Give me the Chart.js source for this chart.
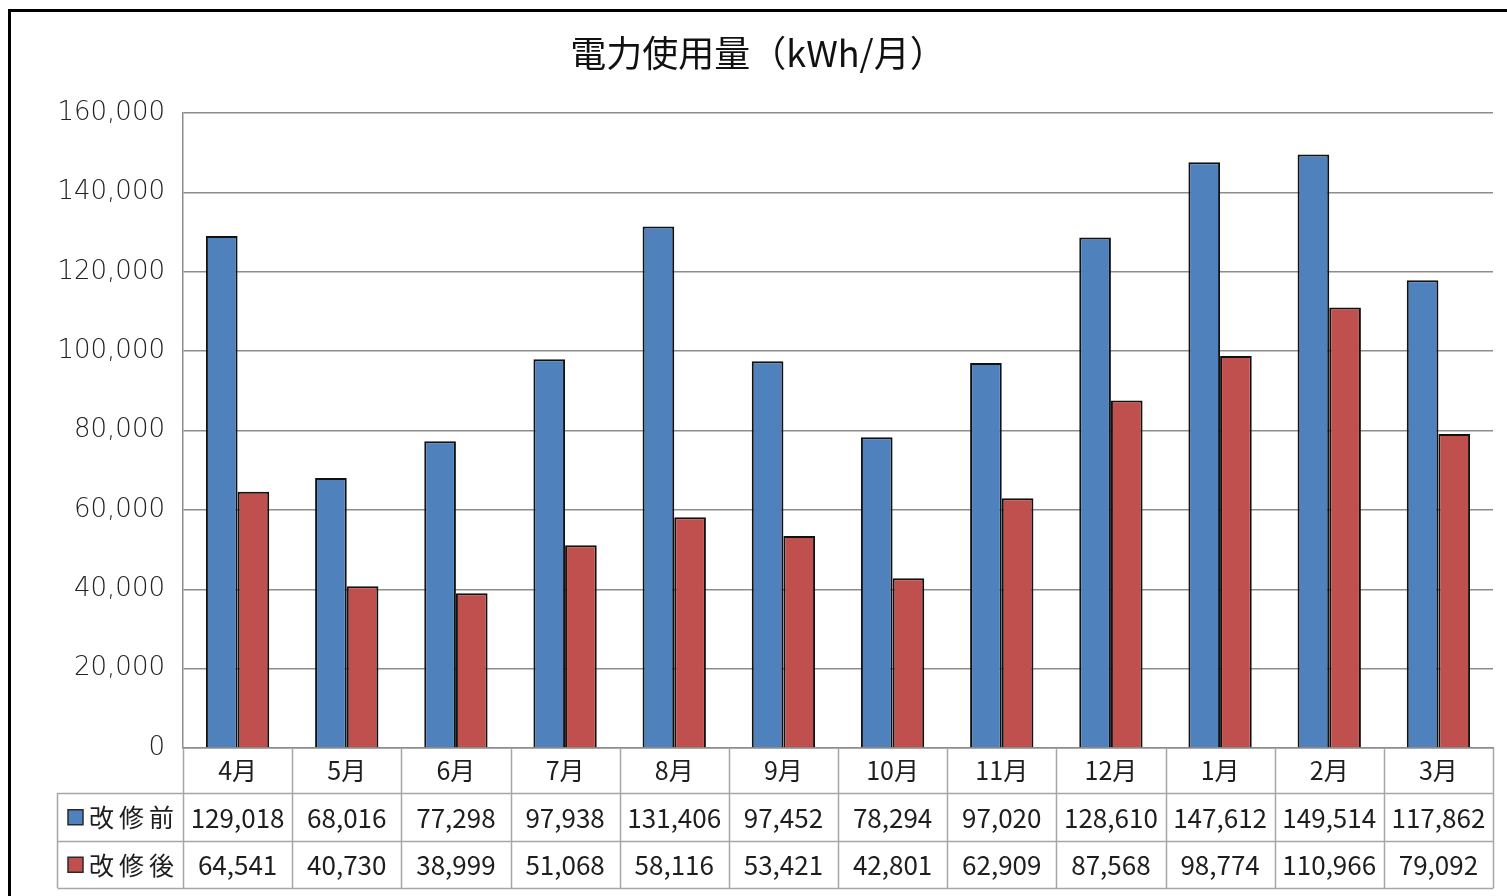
<!DOCTYPE html>
<html lang="ja">
<head>
<meta charset="utf-8">
<title>電力使用量（kWh/月）</title>
<script src="https://cdn.jsdelivr.net/npm/chart.js@4.4.1/dist/chart.umd.min.js"></script>
<style>
  html, body { margin: 0; padding: 0; background: #ffffff; }
  canvas { display: block; }
</style>
</head>
<body>
<canvas id="chart" width="1507" height="896"></canvas>
<script>
// Monthly electricity use, before and after the renovation (kWh)
const months = ['4月', '5月', '6月', '7月', '8月', '9月', '10月', '11月', '12月', '1月', '2月', '3月'];
const beforeRenovation = [129018, 68016, 77298, 97938, 131406, 97452, 78294, 97020, 128610, 147612, 149514, 117862];
const afterRenovation = [64541, 40730, 38999, 51068, 58116, 53421, 42801, 62909, 87568, 98774, 110966, 79092];
const seriesNames = ['改修前', '改修後'];
const yTicks = [0, 20000, 40000, 60000, 80000, 100000, 120000, 140000, 160000];
const chartTitle = '電力使用量（kWh/月）';

const BLUE = '#4f81bd';
const RED = '#c0504d';
const GRID = '#8c8c8c';
const TABLE_LINE = '#a6a6a6';
const TEXT = '#1e1e1e';
const CJK = '"Noto Sans CJK JP", "Noto Sans", sans-serif';

const fmt = v => v.toLocaleString('en-US');

// White page with the heavy frame around the chart, plus the heading
const framePlugin = {
  id: 'frame',
  beforeDraw(chart) {
    const { ctx, width, height } = chart;
    ctx.save();
    ctx.fillStyle = '#ffffff';
    ctx.fillRect(0, 0, width, height);
    ctx.strokeStyle = '#000000';
    ctx.lineWidth = 3;
    ctx.beginPath();
    ctx.moveTo(9.5, height + 5);
    ctx.lineTo(9.5, 10.5);
    ctx.lineTo(width + 5, 10.5);
    ctx.stroke();

    ctx.fillStyle = '#111111';
    ctx.font = '36px ' + CJK;
    ctx.textAlign = 'center';
    ctx.textBaseline = 'middle';
    ctx.fillText(chartTitle, 758, 53);
    ctx.restore();
  }
};

// Data table under the plot: grid, legend keys and values
const dataTablePlugin = {
  id: 'dataTable',
  afterDraw(chart) {
    const { ctx, chartArea } = chart;
    const x = chart.scales.x;
    const n = months.length;
    const left = chartArea.left;
    const right = chartArea.right;
    const w = (right - left) / n;
    const top = chartArea.bottom;
    const rowH = 47.5;
    const rows = [top + 45, top + 45 + rowH, top + 45 + 2 * rowH];
    const keyLeft = 57.5;

    ctx.save();
    ctx.strokeStyle = TABLE_LINE;
    ctx.lineWidth = 1.5;
    ctx.beginPath();
    // vertical cell borders
    for (let i = 0; i <= n; i++) {
      const xi = Math.round(left + i * w) + 0.5;
      ctx.moveTo(xi, top);
      ctx.lineTo(xi, rows[2]);
    }
    ctx.moveTo(keyLeft, rows[0]);
    ctx.lineTo(keyLeft, rows[2]);
    // horizontal row borders
    rows.forEach(r => {
      ctx.moveTo(keyLeft, Math.round(r) + 0.5);
      ctx.lineTo(right + 0.5, Math.round(r) + 0.5);
    });
    ctx.stroke();

    ctx.fillStyle = TEXT;
    ctx.textBaseline = 'middle';
    chart.data.datasets.forEach((ds, r) => {
      const cy = (rows[r] + rows[r + 1]) / 2 + 1;
      // legend key
      ctx.fillStyle = ds.backgroundColor;
      ctx.fillRect(68, cy - 8, 15, 15);
      ctx.strokeStyle = '#2a2a2a';
      ctx.lineWidth = 1.5;
      ctx.strokeRect(68, cy - 8, 15, 15);
      // series name
      ctx.fillStyle = TEXT;
      ctx.font = '25px ' + CJK;
      ctx.textAlign = 'left';
      ctx.letterSpacing = '5px';
      ctx.fillText(ds.label, 89, cy);
      ctx.letterSpacing = '0px';
      // values
      ctx.font = '26px ' + CJK;
      ctx.textAlign = 'center';
      ds.data.forEach((v, i) => {
        ctx.fillText(fmt(v), x.getPixelForValue(i), cy);
      });
    });
    ctx.restore();
  }
};

new Chart(document.getElementById('chart'), {
  type: 'bar',
  data: {
    labels: months,
    datasets: [
      {
        label: seriesNames[0],
        data: beforeRenovation,
        backgroundColor: BLUE,
        borderColor: '#111111',
        borderWidth: 2,
        categoryPercentage: 0.58,
        barPercentage: 1.0
      },
      {
        label: seriesNames[1],
        data: afterRenovation,
        backgroundColor: RED,
        borderColor: '#111111',
        borderWidth: 2,
        categoryPercentage: 0.58,
        barPercentage: 1.0
      }
    ]
  },
  options: {
    responsive: false,
    animation: false,
    devicePixelRatio: 1,
    layout: { padding: { left: 0, right: 14, top: 113, bottom: 0 } },
    plugins: {
      legend: { display: false },
      tooltip: { enabled: false },
      title: { display: false }
    },
    scales: {
      x: {
        grid: { display: false, drawTicks: false },
        border: { display: true, color: GRID, width: 1.5 },
        ticks: {
          color: TEXT,
          font: { family: CJK, size: 25 },
          padding: 7,
          maxRotation: 0,
          autoSkip: false
        },
        afterFit(scale) { scale.height = 148; }
      },
      y: {
        min: 0,
        max: 160000,
        afterBuildTicks(scale) { scale.ticks = yTicks.map(v => ({ value: v })); },
        grid: { color: GRID, lineWidth: 1.5, drawTicks: false },
        border: { display: true, color: GRID, width: 1.5 },
        ticks: {
          color: '#222222',
          font: { family: '"DejaVu Sans", sans-serif', size: 26, weight: '200' },
          padding: 18,
          callback: v => fmt(v)
        },
        afterFit(scale) { scale.width = 183; }
      }
    }
  },
  plugins: [framePlugin, dataTablePlugin]
});
</script>
</body>
</html>
